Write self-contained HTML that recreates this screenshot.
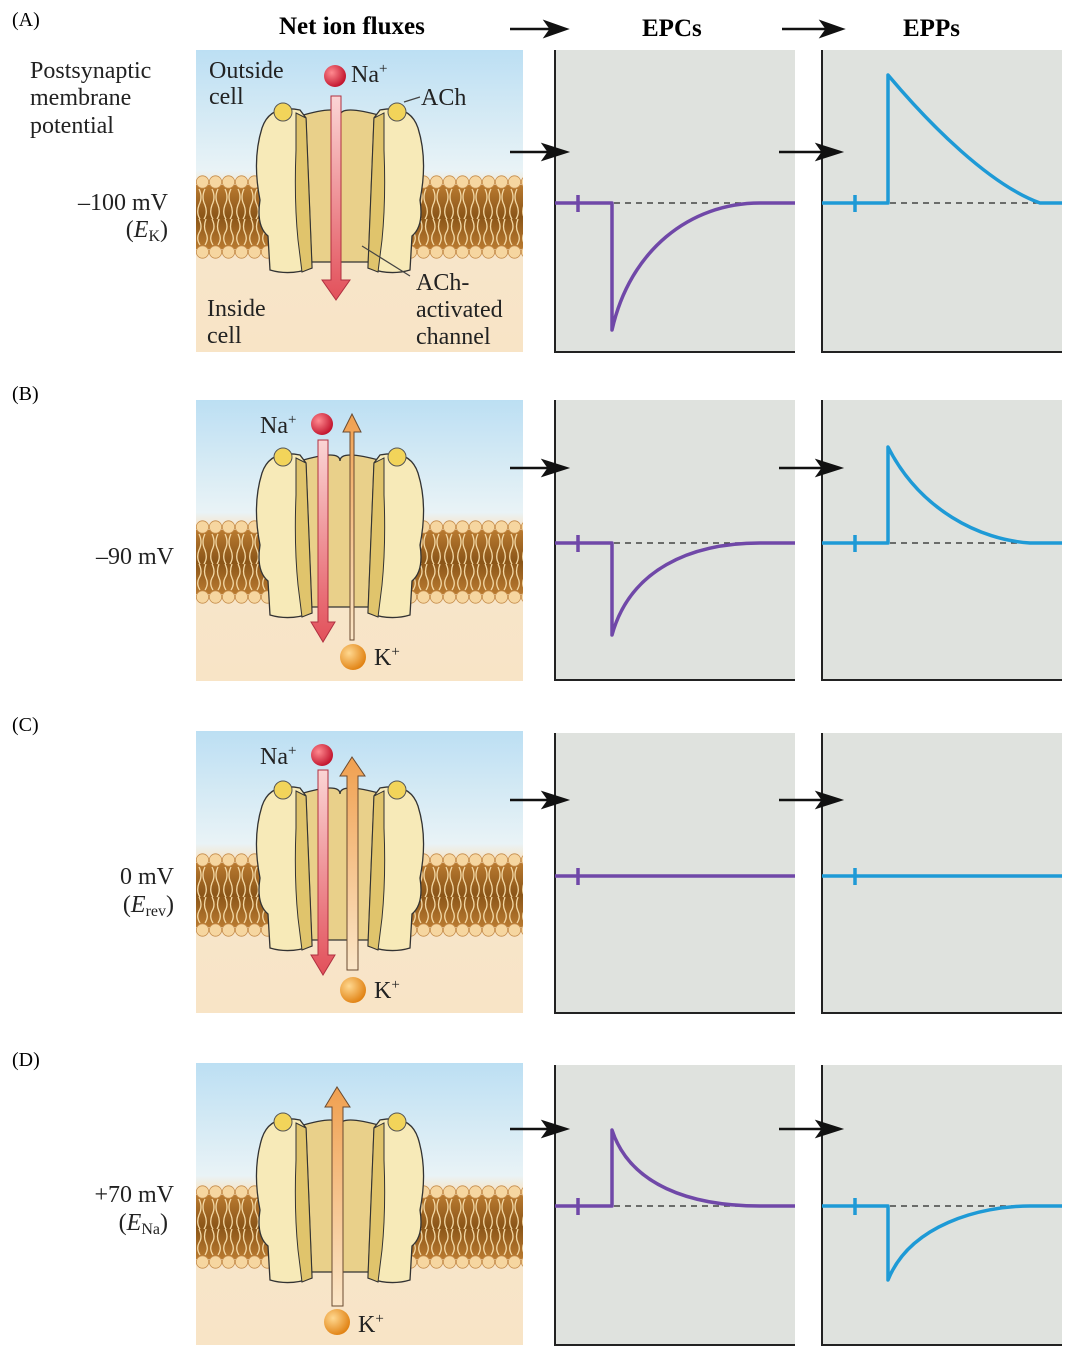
<!DOCTYPE html>
<html><head><meta charset="utf-8"><style>
html,body{margin:0;padding:0;background:#fff;}
svg{display:block;font-family:"Liberation Serif",serif;}
</style></head><body>
<svg width="1074" height="1358" viewBox="0 0 1074 1358" xmlns="http://www.w3.org/2000/svg">
<defs>
<linearGradient id="bg" x1="0" y1="0" x2="0" y2="1">
<stop offset="0" stop-color="#bcdff3"/><stop offset="0.4" stop-color="#e9f3f6"/>
<stop offset="0.45" stop-color="#f6e6cc"/><stop offset="1" stop-color="#f8e4c6"/>
</linearGradient>
<linearGradient id="tail" x1="0" y1="0" x2="0" y2="1">
<stop offset="0" stop-color="#b97a30"/><stop offset="0.5" stop-color="#8a5518"/><stop offset="1" stop-color="#b97a30"/>
</linearGradient>
<pattern id="lip" x="196" y="175" width="13" height="84" patternUnits="userSpaceOnUse">
<rect x="0" y="10" width="13" height="64" fill="url(#tail)"/>
<path d="M3,14 q4,8 0,16 q-3,8 1,14 M9,14 q-4,8 0,16 q3,8 -1,14 M3,44 q4,8 0,14 q-3,6 1,12 M10,44 q-3,8 0,14 q3,6 -1,12" stroke="#f3d8a4" stroke-width="1.3" fill="none"/>
<circle cx="6.5" cy="7" r="6.2" fill="#f6d6a0" stroke="#c48a48" stroke-width="0.8"/>
<circle cx="6.5" cy="77" r="6.2" fill="#f6d6a0" stroke="#c48a48" stroke-width="0.8"/>
</pattern>
<linearGradient id="na" x1="0" y1="0" x2="0" y2="1"><stop offset="0" stop-color="#fbd5d5"/><stop offset="1" stop-color="#e2505a"/></linearGradient>
<linearGradient id="k" x1="0" y1="1" x2="0" y2="0"><stop offset="0" stop-color="#fbe6c8"/><stop offset="1" stop-color="#f0a050"/></linearGradient>
<radialGradient id="naB" cx="0.35" cy="0.35" r="0.7"><stop offset="0" stop-color="#ff8a90"/><stop offset="1" stop-color="#c0102a"/></radialGradient>
<radialGradient id="kB" cx="0.35" cy="0.35" r="0.7"><stop offset="0" stop-color="#ffd890"/><stop offset="1" stop-color="#e08010"/></radialGradient>
<g id="sub">
<path d="M262,128 Q270,104 300,110 L306,118 L312,268 Q290,276 270,270 L268,236 Q256,226 260,200 Q252,160 262,128 Z" fill="#f7eab8" stroke="#333" stroke-width="1.3"/>
<path d="M296,113 L306,118 L312,268 L302,272 L298,240 Q294,200 296,150 Z" fill="#e0c46c" stroke="#333" stroke-width="1"/>
<circle cx="283" cy="112" r="9" fill="#f2d45a" stroke="#555" stroke-width="1"/>
</g>
<g id="chan">
<rect x="196" y="175" width="327" height="84" fill="url(#lip)"/>
<path d="M300,116 Q340,104 340,116 Q340,104 382,116 L382,262 L300,262 Z" fill="#e9d08a" stroke="#333" stroke-width="1.3"/>
<use href="#sub"/>
<use href="#sub" transform="translate(680,0) scale(-1,1)"/>
</g>
</defs>

<g font-size="20">
<text x="12" y="26">(A)</text><text x="12" y="400">(B)</text><text x="12" y="731">(C)</text><text x="12" y="1066">(D)</text>
</g>
<g font-size="25" font-weight="bold">
<text x="279" y="34">Net ion fluxes</text><text x="642" y="36">EPCs</text><text x="903" y="36">EPPs</text>
</g>
<g stroke="#111" stroke-width="2.5" fill="#111">
<line x1="510" y1="29" x2="550" y2="29"/><path d="M566,29 L546,22 L551,29 L546,36 Z"/>
<line x1="782" y1="29" x2="826" y2="29"/><path d="M842,29 L822,22 L827,29 L822,36 Z"/>
</g>
<g font-size="24" fill="#222">
<text x="30" y="78">Postsynaptic</text><text x="30" y="105">membrane</text><text x="30" y="133">potential</text>
<text x="168" y="210" text-anchor="end">–100 mV</text><text x="168" y="237" text-anchor="end">(<tspan font-style="italic">E</tspan><tspan font-size="16" dy="4">K</tspan><tspan dy="-4">)</tspan></text>
<text x="174" y="564" text-anchor="end">–90 mV</text>
<text x="174" y="884" text-anchor="end">0 mV</text><text x="174" y="912" text-anchor="end">(<tspan font-style="italic">E</tspan><tspan font-size="16" dy="4">rev</tspan><tspan dy="-4">)</tspan></text>
<text x="174" y="1202" text-anchor="end">+70 mV</text><text x="168" y="1230" text-anchor="end">(<tspan font-style="italic">E</tspan><tspan font-size="16" dy="4">Na</tspan><tspan dy="-4">)</tspan></text>
</g>

<rect x="196" y="50" width="327" height="302" fill="url(#bg)"/>
<rect x="196" y="400" width="327" height="281" fill="url(#bg)"/>
<rect x="196" y="731" width="327" height="282" fill="url(#bg)"/>
<rect x="196" y="1063" width="327" height="282" fill="url(#bg)"/>
<use href="#chan"/>
<use href="#chan" transform="translate(0,345)"/>
<use href="#chan" transform="translate(0,678)"/>
<use href="#chan" transform="translate(0,1010)"/>

<path d="M331,96 L341,96 L341,280 L350,280 L336,300 L322,280 L331,280 Z" fill="url(#na)" stroke="#b03040" stroke-width="1"/>
<circle cx="335" cy="76" r="11" fill="url(#naB)"/>
<line x1="362" y1="246" x2="410" y2="276" stroke="#444" stroke-width="1.2"/>
<line x1="404" y1="102" x2="420" y2="97" stroke="#444" stroke-width="1.2"/>
<g font-size="24" fill="#222">
<text x="209" y="78">Outside</text><text x="209" y="104">cell</text>
<text x="351" y="82">Na<tspan font-size="15" dy="-9">+</tspan></text>
<text x="421" y="105">ACh</text>
<text x="207" y="316">Inside</text><text x="207" y="343">cell</text>
<text x="416" y="290">ACh-</text><text x="416" y="317">activated</text><text x="416" y="344">channel</text>
</g>
<path d="M318,440 L328,440 L328,622 L335,622 L323,642 L311,622 L318,622 Z" fill="url(#na)" stroke="#b03040" stroke-width="1"/>
<path d="M350,640 L354,640 L354,432 L361,432 L352,414 L343,432 L350,432 Z" fill="url(#k)" stroke="#6a4a30" stroke-width="1"/>
<circle cx="322" cy="424" r="11" fill="url(#naB)"/>
<circle cx="353" cy="657" r="13" fill="url(#kB)"/>
<g font-size="24" fill="#222"><text x="260" y="433">Na<tspan font-size="15" dy="-9">+</tspan></text><text x="374" y="665">K<tspan font-size="15" dy="-9">+</tspan></text></g>
<path d="M318,770 L328,770 L328,955 L335,955 L323,975 L311,955 L318,955 Z" fill="url(#na)" stroke="#b03040" stroke-width="1"/>
<path d="M347,970 L358,970 L358,776 L365,776 L352,757 L340,776 L347,776 Z" fill="url(#k)" stroke="#6a4a30" stroke-width="1"/>
<circle cx="322" cy="755" r="11" fill="url(#naB)"/>
<circle cx="353" cy="990" r="13" fill="url(#kB)"/>
<g font-size="24" fill="#222"><text x="260" y="764">Na<tspan font-size="15" dy="-9">+</tspan></text><text x="374" y="998">K<tspan font-size="15" dy="-9">+</tspan></text></g>
<path d="M332,1306 L343,1306 L343,1107 L350,1107 L337,1087 L325,1107 L332,1107 Z" fill="url(#k)" stroke="#6a4a30" stroke-width="1"/>
<circle cx="337" cy="1322" r="13" fill="url(#kB)"/>
<g font-size="24" fill="#222"><text x="358" y="1332">K<tspan font-size="15" dy="-9">+</tspan></text></g>

<g fill="#dfe2de">
<rect x="555" y="50" width="240" height="302"/><rect x="822" y="50" width="240" height="302"/>
<rect x="555" y="400" width="240" height="280"/><rect x="822" y="400" width="240" height="280"/>
<rect x="555" y="733" width="240" height="280"/><rect x="822" y="733" width="240" height="280"/>
<rect x="555" y="1065" width="240" height="280"/><rect x="822" y="1065" width="240" height="280"/>
</g>
<g stroke="#222" stroke-width="2" fill="none">
<path d="M555,50 V352 H795 M822,50 V352 H1062"/>
<path d="M555,400 V680 H795 M822,400 V680 H1062"/>
<path d="M555,733 V1013 H795 M822,733 V1013 H1062"/>
<path d="M555,1065 V1345 H795 M822,1065 V1345 H1062"/>
</g>
<g stroke="#111" stroke-width="2.5" fill="#111">
<line x1="510" y1="152" x2="548" y2="152"/><path d="M566,152 L544,145 L549,152 L544,159 Z"/>
<line x1="779" y1="152" x2="822" y2="152"/><path d="M840,152 L818,145 L823,152 L818,159 Z"/>
<line x1="510" y1="468" x2="548" y2="468"/><path d="M566,468 L544,461 L549,468 L544,475 Z"/>
<line x1="779" y1="468" x2="822" y2="468"/><path d="M840,468 L818,461 L823,468 L818,475 Z"/>
<line x1="510" y1="800" x2="548" y2="800"/><path d="M566,800 L544,793 L549,800 L544,807 Z"/>
<line x1="779" y1="800" x2="822" y2="800"/><path d="M840,800 L818,793 L823,800 L818,807 Z"/>
<line x1="510" y1="1129" x2="548" y2="1129"/><path d="M566,1129 L544,1122 L549,1129 L544,1136 Z"/>
<line x1="779" y1="1129" x2="822" y2="1129"/><path d="M840,1129 L818,1122 L823,1129 L818,1136 Z"/>
</g>
<g stroke="#444" stroke-width="1.5" stroke-dasharray="6,5">
<line x1="614" y1="203" x2="795" y2="203"/><line x1="890" y1="203" x2="1062" y2="203"/>
<line x1="614" y1="543" x2="795" y2="543"/><line x1="890" y1="543" x2="1062" y2="543"/>
<line x1="614" y1="1206" x2="795" y2="1206"/><line x1="890" y1="1206" x2="1062" y2="1206"/>
</g>
<g stroke="#7048a8" stroke-width="3.5" fill="none" stroke-linejoin="round">
<path d="M555,203 H612 V330 C630,250 690,203 760,203 H795"/><path d="M578,195 V212"/>
<path d="M555,543 H612 V635 C630,570 690,543 760,543 H795"/><path d="M578,535 V552"/>
<path d="M555,876 H795"/><path d="M578,868 V885"/>
<path d="M555,1206 H612 V1130 C630,1185 690,1206 760,1206 H795"/><path d="M578,1198 V1215"/>
</g>
<g stroke="#1e9ad6" stroke-width="3.5" fill="none" stroke-linejoin="round">
<path d="M822,203 H888 V75 C930,125 990,185 1040,203 H1062"/><path d="M855,195 V212"/>
<path d="M822,543 H888 V447 C920,510 980,540 1030,543 H1062"/><path d="M855,535 V552"/>
<path d="M822,876 H1062"/><path d="M855,868 V885"/>
<path d="M822,1206 H888 V1280 C910,1225 980,1206 1030,1206 H1062"/><path d="M855,1198 V1215"/>
</g>
</svg>
</body></html>
